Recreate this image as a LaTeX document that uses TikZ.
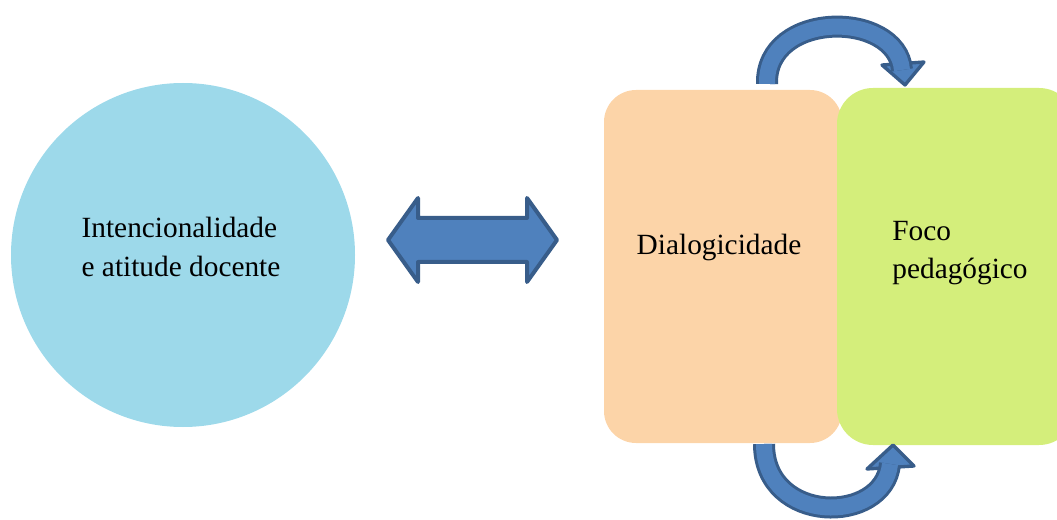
\documentclass[tikz,border=0pt]{standalone}
\usepackage{fontspec}
\setmainfont{Liberation Serif}
\definecolor{cblue}{HTML}{9DD9EA}
\definecolor{cpeach}{HTML}{FCD4A8}
\definecolor{cgreen}{HTML}{D4EE7B}
\definecolor{afill}{HTML}{4F81BD}
\definecolor{aline}{HTML}{385D8A}
\tikzset{
  lbl/.style={font=\fontsize{22}{29}\selectfont, text=black, align=left, inner sep=0pt},
  box/.style={rounded corners=24pt},
  shaftout/.style={draw=aline, line width=16.5pt},
  shaftin/.style={draw=afill, line width=12pt},
  head/.style={fill=afill, draw=aline, line width=2.5pt, line join=round},
  blockarrow/.style={fill=afill, draw=aline, line width=3pt, line join=round}
}
\begin{document}
\begin{tikzpicture}[x=0.75pt,y=-0.75pt]
\useasboundingbox (0,0) rectangle (1057,520);
\clip (0,0) rectangle (1057,520);
% circle
\fill[cblue] (183,255) circle[radius=172];
\node[lbl] (intent) at (181,247) {Intencionalidade\\e atitude docente};
% boxes
\fill[cpeach, box] (604,90) rectangle (842,443);
\fill[cgreen, rounded corners=27pt] (837,88) rectangle (1075,445);
\node[lbl] (dial) at (719,247) {Dialogicidade};
\node[lbl] (foco) at (960,253) {Foco\\pedagógico};
% double arrow
\coordinate (L) at (388,240);
\coordinate (R) at (557,240);
\draw[blockarrow] (L) -- (418,198) -- (418,218) -- (527,218) -- (527,198) -- (R)
  -- (527,282) -- (527,262) -- (418,262) -- (418,282) -- cycle;
% top curved arrow
\coordinate (ts) at (767,84);
\coordinate (te) at (902,70);
\coordinate (tt) at (905,85);
\draw[head] (882,65) -- (tt) -- (924,62) -- cycle;
\draw[shaftout] (ts) .. controls (765,10) and (897,10) .. (te);
\draw[shaftin] (ts) .. controls (765,10) and (897,10) .. (te);
% bottom curved arrow
\coordinate (bs) at (764,444);
\coordinate (be) at (890,464);
\coordinate (bt) at (893,445);
\draw[head] (867,469) -- (bt) -- (914,466) -- cycle;
\draw[shaftout] (bs) .. controls (764,525) and (884,525) .. (be);
\draw[shaftin] (bs) .. controls (764,525) and (884,525) .. (be);
\end{tikzpicture}
\end{document}
